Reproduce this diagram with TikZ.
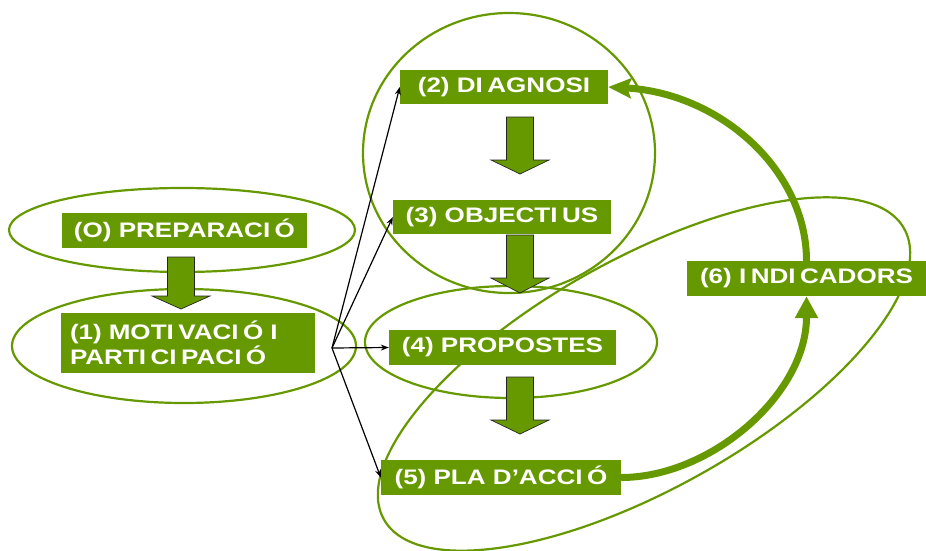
\documentclass[tikz,border=0pt]{standalone}
\usepackage{fontspec}
\setmainfont{Liberation Sans}
\newfontfamily\boxfont[FakeStretch=1.24]{Liberation Sans}
\usetikzlibrary{arrows.meta}
\definecolor{leaf}{RGB}{102,153,0}
\newcommand\blockarr[4]{\draw[blockarrow] (#1-13.5,#2) -- (#1+13.5,#2) -- (#1+13.5,#3) -- (#1+29,#3) -- (#1,#4) -- (#1-29,#3) -- (#1-13.5,#3) -- cycle;}
\newcommand\Ik{I\kern4.5pt}
\begin{document}
\begin{tikzpicture}[x=1pt,y=-1pt,
  box/.style={fill=leaf,text=white,font=\boxfont\bfseries\fontsize{21}{25}\selectfont,inner sep=0pt,anchor=center},
  ring/.style={draw=leaf,line width=2.2pt},
  blockarrow/.style={fill=leaf,draw=black!85,line width=0.7pt},
  pointer/.style={draw=black,line width=1.2pt,-{Stealth[length=8pt,width=6pt]}},
  loopback/.style={draw=leaf,line width=7pt}]
\useasboundingbox (0,0) rectangle (926,551);
% rings
\draw[ring] (182,230) ellipse [x radius=173, y radius=42];
\draw[ring] (184,346) ellipse [x radius=172, y radius=57];
\draw[ring] (509,153) ellipse [x radius=146, y radius=140];
\draw[ring] (511,342) ellipse [x radius=146, y radius=56];
\draw[ring, rotate around={29.2:(644,374)}] (644,374) ellipse [x radius=298, y radius=115];
% boxes
\node[box, minimum width=245pt, minimum height=35pt] (p0) at (184.5,230.5) {(O) PREPARAC\Ik Ó};
\node[box, minimum width=254pt, minimum height=60pt, align=left, text width=236pt] (p1) at (188,343) {(1) MOT\Ik VAC\Ik Ó I\\PART\Ik C\Ik PAC\Ik Ó};
\node[box, minimum width=208pt, minimum height=34pt] (p2) at (504,87) {(2) D\Ik AGNOSI};
\node[box, minimum width=218pt, minimum height=34pt] (p3) at (502,217) {(3) OBJECT\Ik US};
\node[box, minimum width=227pt, minimum height=35pt] (p4) at (502.5,347.5) {(4) PROPOSTES};
\node[box, minimum width=240pt, minimum height=35pt] (p5) at (501,477.5) {(5) PLA D’ACC\Ik Ó};
\node[box, minimum width=239pt, minimum height=35pt] (p6) at (806.5,278.5) {(6) \Ik ND\Ik CADORS};
% block arrows
\blockarr{181}{257}{296}{309}
\blockarr{520}{117}{160}{174}
\blockarr{520}{235}{278}{293}
\blockarr{520}{377}{420}{434}
% thin pointers
\coordinate (o) at (332,348);
\draw[pointer] (o) -- (p2.west);
\draw[pointer] (o) -- (p3.west);
\draw[pointer] (o) -- (p4.west);
\draw[pointer] (o) -- (p5.west);
% loop arrows
\draw[loopback, -{Triangle[length=22pt,width=22pt]}] (p5.east) .. controls (710,477.5) and (806.5,395) .. (p6.south);
\draw[loopback, -{Stealth[length=23pt,width=20pt,inset=4pt]}] (p6.north) .. controls (806.5,170) and (720,93) .. (p2.east);
\end{tikzpicture}
\end{document}
